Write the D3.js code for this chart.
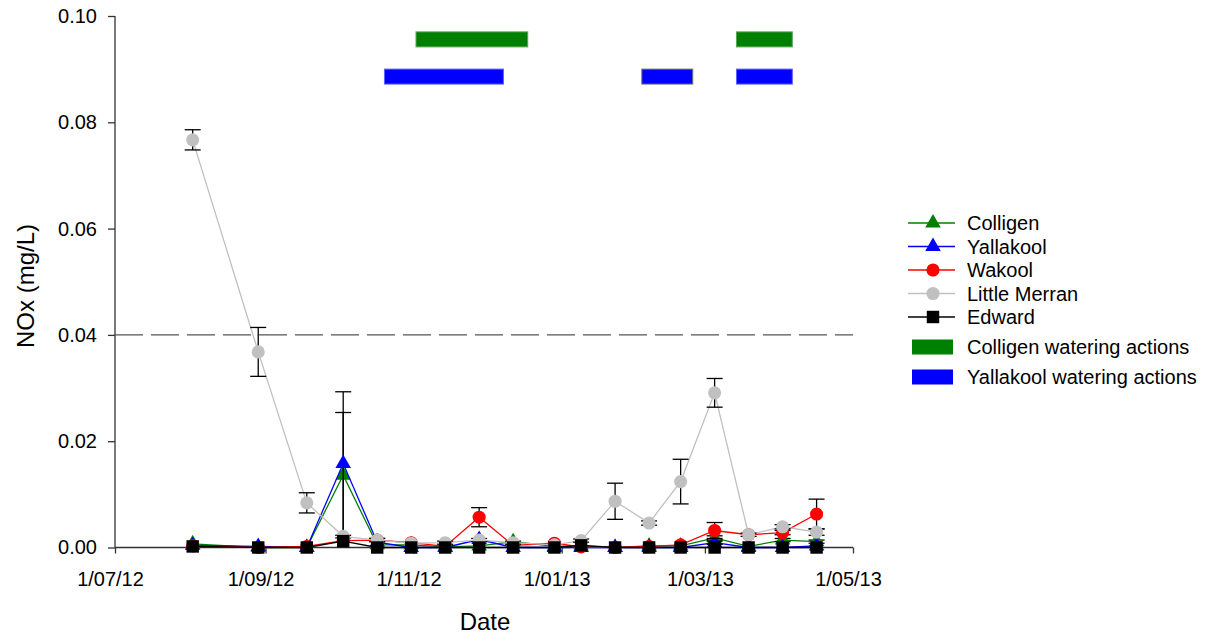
<!DOCTYPE html>
<html>
<head>
<meta charset="utf-8">
<script src="https://cdn.jsdelivr.net/npm/d3@7"></script>
<style>
  body { margin: 0; background: #fff; }
  svg { font-family: "Liberation Sans", Arial, sans-serif; }
</style>
</head>
<body>
<svg width="1213" height="634"></svg>
<script>
// sampling dates (fortnightly)
var dates = ["2012-08-02","2012-08-29","2012-09-18","2012-10-03","2012-10-17","2012-10-31","2012-11-14",
  "2012-11-28","2012-12-12","2012-12-29","2013-01-09","2013-01-23","2013-02-06","2013-02-19",
  "2013-03-05","2013-03-19","2013-04-02","2013-04-16"];

// NOx means and standard errors (mg/L)
var colligen    = [0.0007,0,0,0.0136,0.0005,0.0005,0.0001,0.0003,0.0011,0.0002,0.0003,0,0.0003,0.0003,0.0018,0.0002,0.0014,0.0011];
var colligenErr = [0,0,0,0.0118,0,0,0,0,0,0,0,0,0,0,0.0004,0,0.0003,0.0003];
var yallakool    = [0.0004,0.0002,0,0.0158,0.0010,0,0,0.0015,0,0,0,0,0,0,0.0009,0,0,0.0003];
var yallakoolErr = [0,0,0,0.0135,0,0,0,0,0,0,0,0,0,0,0.0003,0,0,0];
var wakool    = [0.0003,0,0.0002,0.0013,0.0014,0.0009,0.0002,0.0057,0.0004,0.0008,0.0001,0,0.0002,0.0005,0.0032,0.0024,0.0028,0.0063];
var wakoolErr = [0,0,0,0,0.0003,0,0,0.0018,0,0,0,0,0,0,0.0015,0,0.0004,0.0028];
var merran    = [0.0767,0.0368,0.0084,0.0021,0.0014,0.0008,0.0009,0.0014,0.0009,0.0005,0.0013,0.0087,0.0046,0.0124,0.0291,0.0024,0.0039,0.0029];
var merranErr = [0.0019,0.0046,0.0019,0,0.0003,0,0.0003,0.0003,0.0003,0,0.0003,0.0034,0.0004,0.0042,0.0027,0.0003,0.0004,0.0006];
var edward    = [0.0002,0,0,0.0012,0,0,0,0,0,0,0.0004,0,0,0,0,0,0,0];
var edwardErr = [0,0,0,0,0,0,0,0,0,0,0,0,0,0,0,0,0,0];

// watering actions (start, end) and the level they are drawn at
var colligenWatering  = [["2012-11-02","2012-12-18"],["2013-03-14","2013-04-06"]];
var yallakoolWatering = [["2012-10-20","2012-12-08"],["2013-02-03","2013-02-24"],["2013-03-14","2013-04-06"]];
var colligenLevel = 0.0956, yallakoolLevel = 0.0886;

var guideline = 0.04;
var xTicks = ["2012-07-01","2012-09-01","2012-11-01","2013-01-01","2013-03-01","2013-05-01"];
var yTicks = [0, 0.02, 0.04, 0.06, 0.08, 0.10];

var parse = d3.timeParse("%Y-%m-%d");
var fmt = d3.timeFormat("%-d/%m/%y");

var series = [
  {name: "Colligen", color: "#008000", values: colligen, err: colligenErr, symbol: d3.symbolTriangle, size: 105},
  {name: "Yallakool", color: "#0000ff", values: yallakool, err: yallakoolErr, symbol: d3.symbolTriangle, size: 105},
  {name: "Wakool", color: "#ff0000", values: wakool, err: wakoolErr, symbol: d3.symbolCircle, size: 135},
  {name: "Little Merran", color: "#c0c0c0", values: merran, err: merranErr, symbol: d3.symbolCircle, size: 135},
  {name: "Edward", color: "#000000", values: edward, err: edwardErr, symbol: d3.symbolSquare, size: 155}
];

var margin = {left: 115, top: 16};
var width = 738, height = 531.5;

var svg = d3.select("svg");
var g = svg.append("g").attr("transform", "translate(" + margin.left + "," + margin.top + ")");

var x = d3.scaleTime().domain([parse("2012-07-01"), parse("2013-05-01")]).range([0, width]);
var y = d3.scaleLinear().domain([0, 0.1]).range([height, 0]);

// axes
var xAxis = g.append("g")
  .attr("transform", "translate(0," + height + ")")
  .call(d3.axisBottom(x).tickValues(xTicks.map(parse)).tickFormat(fmt).tickSize(6).tickPadding(18));
xAxis.selectAll("text").attr("font-size", 20).attr("dx", -5).attr("fill", "#000");

var yAxis = g.append("g")
  .call(d3.axisLeft(y).tickValues(yTicks).tickFormat(d3.format(".2f")).tickSize(7).tickPadding(11));
yAxis.selectAll("text").attr("font-size", 20).attr("fill", "#000");

g.selectAll(".domain").attr("stroke", "#333").attr("stroke-width", 1.3);
g.selectAll(".tick line").attr("stroke", "#333").attr("stroke-width", 1.3);
xAxis.select(".domain").attr("d", "M0,0H" + width);
yAxis.select(".domain").attr("d", "M0," + height + "V0");

// axis titles
svg.append("text").attr("x", 485).attr("y", 630).attr("text-anchor", "middle")
  .attr("font-size", 24).text("Date");
svg.append("text").attr("transform", "translate(34,286) rotate(-90)").attr("text-anchor", "middle")
  .attr("font-size", 24).text("NOx (mg/L)");

// guideline
g.append("line")
  .attr("x1", 0).attr("x2", width)
  .attr("y1", y(guideline)).attr("y2", y(guideline))
  .attr("stroke", "#555").attr("stroke-width", 1.2)
  .attr("stroke-dasharray", "28,8");

// watering action bars
function drawWatering(list, level, color, stroke) {
  g.selectAll(null).data(list).enter().append("rect")
    .attr("x", function(d){ return x(parse(d[0])); })
    .attr("width", function(d){ return x(parse(d[1])) - x(parse(d[0])); })
    .attr("y", y(level) - 7.5)
    .attr("height", 15)
    .attr("fill", color)
    .attr("stroke", function(d, i){ return stroke(i); })
    .attr("stroke-width", 1);
}
drawWatering(colligenWatering, colligenLevel, "#008000", function(){ return "#5aa05a"; });
drawWatering(yallakoolWatering, yallakoolLevel, "#0000ff", function(i){ return i === 1 ? "#777" : "#6060ff"; });

// series
var line = d3.line()
  .x(function(d){ return x(d.date); })
  .y(function(d){ return y(d.value); });

series.forEach(function(s) {
  var data = dates.map(function(d, i){ return {date: parse(d), value: s.values[i], err: s.err[i]}; });

  g.append("path").datum(data)
    .attr("fill", "none").attr("stroke", s.color).attr("stroke-width", 1.3)
    .attr("d", line);

  var eb = g.selectAll(null).data(data.filter(function(d){ return d.err > 0; })).enter().append("g")
    .attr("stroke", "#000").attr("stroke-width", 1.3);
  eb.append("line")
    .attr("x1", function(d){ return x(d.date); }).attr("x2", function(d){ return x(d.date); })
    .attr("y1", function(d){ return y(d.value + d.err); }).attr("y2", function(d){ return y(Math.max(0, d.value - d.err)); });
  eb.append("line")
    .attr("x1", function(d){ return x(d.date) - 8; }).attr("x2", function(d){ return x(d.date) + 8; })
    .attr("y1", function(d){ return y(d.value + d.err); }).attr("y2", function(d){ return y(d.value + d.err); });
  eb.append("line")
    .attr("x1", function(d){ return x(d.date) - 8; }).attr("x2", function(d){ return x(d.date) + 8; })
    .attr("y1", function(d){ return y(Math.max(0, d.value - d.err)); }).attr("y2", function(d){ return y(Math.max(0, d.value - d.err)); });

  g.selectAll(null).data(data).enter().append("path")
    .attr("transform", function(d){ return "translate(" + x(d.date) + "," + y(d.value) + ")"; })
    .attr("d", d3.symbol().type(s.symbol).size(s.size))
    .attr("fill", s.color);
});

// legend
var leg = svg.append("g").attr("transform", "translate(908,223)");
series.forEach(function(s, i) {
  var row = leg.append("g").attr("transform", "translate(0," + (i * 23.5) + ")");
  row.append("line").attr("x1", 0).attr("x2", 47).attr("stroke", s.color).attr("stroke-width", 1.3);
  row.append("path").attr("transform", "translate(25,0)")
    .attr("d", d3.symbol().type(s.symbol).size(s.size)).attr("fill", s.color);
  row.append("text").attr("x", 59).attr("y", 7).attr("font-size", 20).text(s.name);
});
var bars = [{name: "Colligen watering actions", color: "#008000"},
            {name: "Yallakool watering actions", color: "#0000ff"}];
bars.forEach(function(b, i) {
  var row = leg.append("g").attr("transform", "translate(0," + (124 + i * 30) + ")");
  row.append("rect").attr("x", 4).attr("y", -7.5).attr("width", 41).attr("height", 15).attr("fill", b.color);
  row.append("text").attr("x", 59).attr("y", 7).attr("font-size", 20).text(b.name);
});
</script>
</body>
</html>
